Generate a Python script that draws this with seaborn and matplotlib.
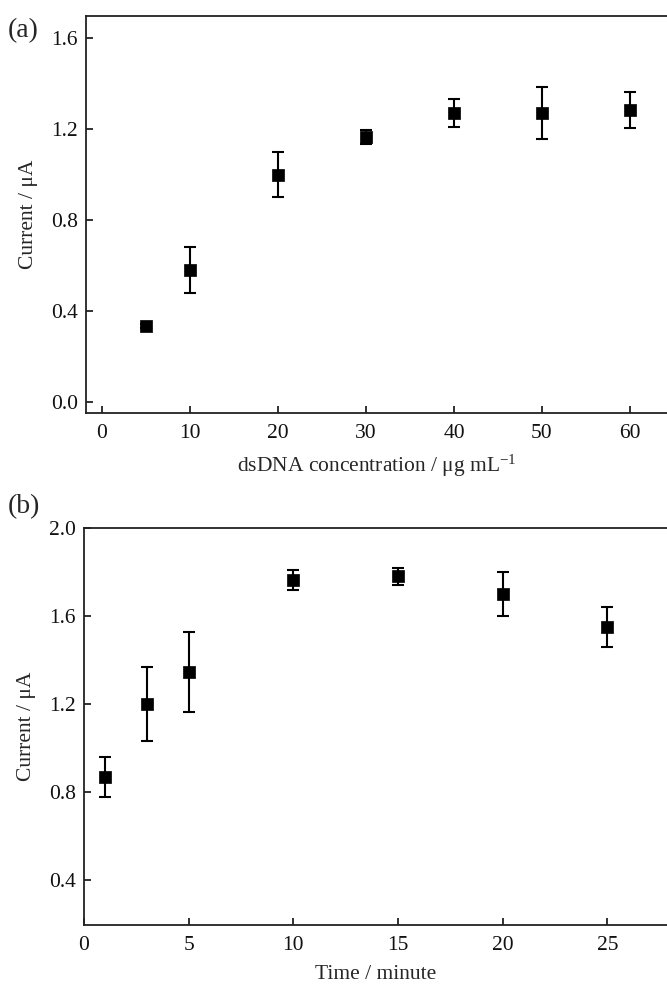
import numpy as np
import pandas as pd
import seaborn as sns
import matplotlib
matplotlib.use("Agg")
import matplotlib.pyplot as plt

# Panel (a) data
conc = [5, 10, 20, 30, 40, 50, 60]
current_a = [0.334, 0.58, 1.0, 1.165, 1.27, 1.27, 1.285]
err_a = [0.01, 0.10, 0.10, 0.03, 0.06, 0.115, 0.08]

# Panel (b) data
time_min = [1, 3, 5, 10, 15, 20, 25]
current_b = [0.868, 1.20, 1.345, 1.764, 1.78, 1.70, 1.55]
err_b = [0.09, 0.17, 0.18, 0.045, 0.04, 0.10, 0.09]

yticks_a = [0.0, 0.4, 0.8, 1.2, 1.6]
xticks_a = [0, 10, 20, 30, 40, 50, 60]
yticks_b = [0.4, 0.8, 1.2, 1.6, 2.0]
xticks_b = [0, 5, 10, 15, 20, 25]

sns.set_style("ticks")
plt.rcParams['font.family'] = ['Liberation Serif', 'DejaVu Serif']
plt.rcParams['mathtext.fontset'] = 'custom'
plt.rcParams['mathtext.rm'] = 'Liberation Serif'
plt.rcParams['mathtext.it'] = 'Liberation Serif:italic'
plt.rcParams['axes.unicode_minus'] = False

fig = plt.figure(figsize=(6.67, 9.84), dpi=100)
W, H = 667, 984
ax_a = fig.add_axes([86 / W, 1 - 413 / H, 1 - 86 / W, (413 - 16) / H])
ax_b = fig.add_axes([84 / W, 1 - 925 / H, 1 - 84 / W, (925 - 528) / H])

fs = 15.5


def style(ax):
    for s in ["left", "bottom", "top"]:
        ax.spines[s].set_linewidth(1.3)
        ax.spines[s].set_color("#222222")
    ax.spines["right"].set_visible(False)
    ax.tick_params(direction="in", length=5, width=1.3, labelsize=fs,
                   pad=6, colors="#222222", labelcolor="#111111")
    ax.tick_params(axis="x", pad=8)


df_a = pd.DataFrame({"x": conc, "y": current_a})
ax_a.errorbar(conc, current_a, yerr=err_a, fmt="none", ecolor="black",
              elinewidth=1.5, capsize=4, capthick=1.5, zorder=2)
sns.scatterplot(data=df_a, x="x", y="y", marker="s", s=70, color="black",
                edgecolor="black", linewidth=0.5, ax=ax_a, zorder=3)
ax_a.set_xlim(-1.8, 64.2)
ax_a.set_ylim(-0.048, 1.697)
ax_a.set_xticks(xticks_a)
ax_a.set_yticks(yticks_a)
ax_a.set_yticklabels([f"{v:.1f}" for v in yticks_a])
ax_a.set_xlabel(r"dsDNA concentration / μg mL$^{-1}$", fontsize=fs, labelpad=7)
ax_a.set_ylabel("Current / μA", fontsize=fs, labelpad=9)
style(ax_a)

df_b = pd.DataFrame({"x": time_min, "y": current_b})
ax_b.errorbar(time_min, current_b, yerr=err_b, fmt="none", ecolor="black",
              elinewidth=1.5, capsize=4, capthick=1.5, zorder=2)
sns.scatterplot(data=df_b, x="x", y="y", marker="s", s=70, color="black",
                edgecolor="black", linewidth=0.5, ax=ax_b, zorder=3)
ax_b.set_xlim(0, 27.85)
ax_b.set_ylim(0.195, 2.0)
ax_b.set_xticks(xticks_b)
ax_b.set_yticks(yticks_b)
ax_b.set_yticklabels([f"{v:.1f}" for v in yticks_b])
ax_b.set_xlabel("Time / minute", fontsize=fs, labelpad=7)
ax_b.set_ylabel("Current / μA", fontsize=fs, labelpad=9)
style(ax_b)

fig.text(8 / W, 1 - 31 / H, "(a)", fontsize=20, va="center", ha="left")
fig.text(8 / W, 1 - 507 / H, "(b)", fontsize=20, va="center", ha="left")

fig.savefig("out.png", dpi=100)
